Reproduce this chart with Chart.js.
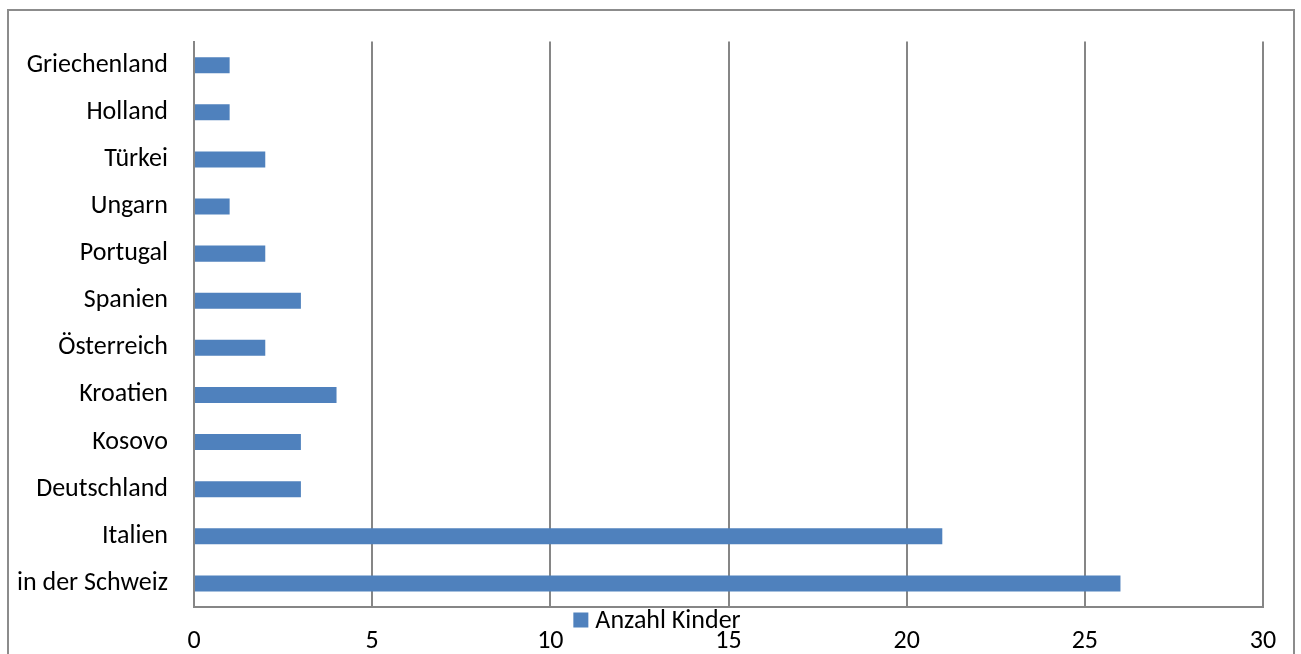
<!DOCTYPE html>
<html>
<head>
<meta charset="utf-8">
<script src="https://cdn.jsdelivr.net/npm/chart.js@4"></script>
<style>
  html, body { margin: 0; padding: 0; background: #fff; overflow: hidden; }
  #wrap { position: relative; width: 1301px; height: 654px; }
  #frame { position: absolute; left: 7px; top: 9px; width: 1288px; height: 700px; border: 2px solid #8c8c8c; box-sizing: border-box; }
  canvas { position: absolute; left: 0; top: 0; }
</style>
</head>
<body>
<div id="wrap">
  <div id="frame"></div>
  <canvas id="c" width="1301" height="654"></canvas>
</div>
<script>
const categories = ["Griechenland", "Holland", "Türkei", "Ungarn", "Portugal", "Spanien", "Österreich", "Kroatien", "Kosovo", "Deutschland", "Italien", "in der Schweiz"];
const anzahlKinder = [1, 1, 2, 1, 2, 3, 2, 4, 3, 3, 21, 26];
const seriesLabel = "Anzahl Kinder";
const xMin = 0, xMax = 30, xStep = 5;

const FONT = "Carlito, Calibri, 'Open Sans', sans-serif";
const BAR = "#4F81BD";
const GRID = "#868686";

const legendPlugin = {
  id: 'customLegend',
  afterDraw(chart) {
    const ctx = chart.ctx;
    const ds = chart.data.datasets[0];
    ctx.save();
    ctx.font = "26px " + FONT;
    const tw = ctx.measureText(ds.label).width;
    const box = 15, gap = 7;
    const total = box + gap + tw;
    const cx = 657;
    const x0 = cx - total / 2;
    const y = 620;
    ctx.fillStyle = ds.backgroundColor;
    ctx.fillRect(x0, y - box / 2, box, box);
    ctx.fillStyle = "#000";
    ctx.textBaseline = "middle";
    ctx.textAlign = "left";
    ctx.fillText(ds.label, x0 + box + gap, y + 1);
    ctx.restore();
  }
};

new Chart(document.getElementById('c'), {
  type: 'bar',
  data: {
    labels: categories,
    datasets: [{
      label: seriesLabel,
      data: anzahlKinder,
      backgroundColor: BAR,
      borderWidth: 0,
      barPercentage: 0.68,
      categoryPercentage: 0.5
    }]
  },
  options: {
    indexAxis: 'y',
    responsive: false,
    animation: false,
    devicePixelRatio: 1,
    layout: { padding: { left: 0, right: 38, top: 41, bottom: 0 } },
    plugins: { legend: { display: false }, tooltip: { enabled: false } },
    scales: {
      x: {
        min: xMin, max: xMax,
        ticks: { stepSize: xStep, color: "#000", font: { family: FONT, size: 26 }, padding: 19, maxRotation: 0 },
        grid: { color: GRID, lineWidth: 2, drawTicks: false },
        border: { color: GRID, width: 2 },
        afterFit(scale) { scale.height = 47; }
      },
      y: {
        ticks: { color: "#000", font: { family: FONT, size: 26 }, padding: 26 },
        grid: { display: false, drawTicks: false },
        border: { color: GRID, width: 2 },
        afterFit(scale) { scale.width = 194; }
      }
    }
  },
  plugins: [legendPlugin]
});
</script>
</body>
</html>
